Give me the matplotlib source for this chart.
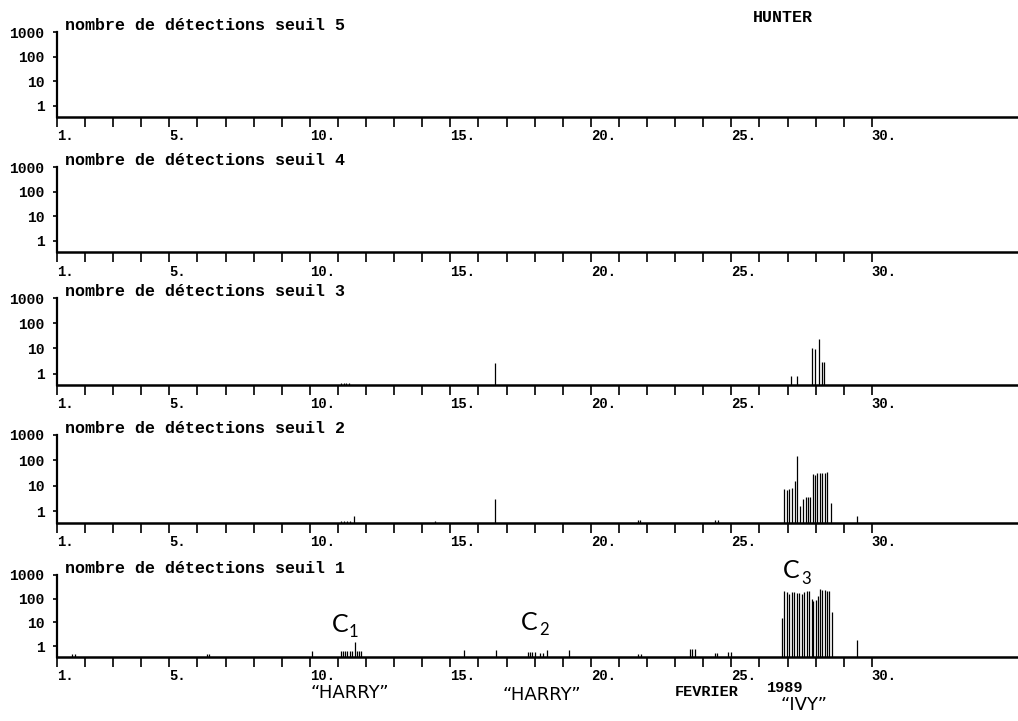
import matplotlib.pyplot as plt

W, H = 1018, 721

# jours de fevrier 1989 (tranches de 2 h) et nombre de detections par seuil
t_seuil5 = []
n_seuil5 = []

t_seuil4 = []
n_seuil4 = []

t_seuil3 = [11.10, 11.20, 11.30, 11.40, 16.59, 27.11, 27.35, 27.86, 27.98, 28.11, 28.21, 28.31]
n_seuil3 = [0.42, 0.42, 0.42, 0.42, 2.6, 0.8, 0.8, 10.3, 9.7, 22.6, 3.0, 3.0]

t_seuil2 = [11.11, 11.21, 11.32, 11.43, 11.58, 14.45, 16.59, 21.67, 21.75, 24.42, 24.52,
            26.88, 26.98, 27.06, 27.16, 27.25, 27.32, 27.44, 27.55, 27.64, 27.73, 27.80,
            27.89, 27.98, 28.06, 28.15, 28.24, 28.33, 28.42, 28.53, 29.47]
n_seuil2 = [0.42, 0.42, 0.42, 0.42, 0.67, 0.42, 3.0, 0.45, 0.45, 0.45, 0.45,
            7.4, 7.0, 7.4, 8.6, 16, 148, 1.6, 3.2, 3.6, 3.6, 3.6,
            29, 27, 31, 31, 31, 31, 36, 2.1, 0.65]

t_seuil1 = [1.53, 1.64, 6.34, 6.40, 10.06,
            11.10, 11.17, 11.25, 11.33, 11.43, 11.51, 11.60, 11.69, 11.76, 11.82,
            15.48, 16.61, 17.75, 17.83, 17.91, 18.01, 18.19, 18.28, 18.43, 19.23,
            21.68, 21.77, 23.53, 23.61, 23.70, 24.42, 24.50, 24.87, 24.97,
            26.79, 26.88, 26.97, 27.06, 27.15, 27.24, 27.32, 27.42, 27.50, 27.58, 27.68,
            27.76, 27.86, 27.91, 28.00, 28.07, 28.15, 28.24, 28.33, 28.41, 28.48, 28.57,
            29.47]
n_seuil1 = [0.45, 0.45, 0.45, 0.45, 0.65,
            0.6, 0.6, 0.6, 0.6, 0.6, 0.6, 1.5, 0.6, 0.6, 0.6,
            0.72, 0.72, 0.57, 0.57, 0.57, 0.57, 0.52, 0.52, 0.67, 0.72,
            0.49, 0.49, 0.74, 0.74, 0.74, 0.52, 0.52, 0.57, 0.57,
            15, 214, 196, 154, 196, 185, 169, 169, 154, 185, 208,
            208, 97, 78, 85, 132, 245, 230, 230, 214, 214, 28,
            1.8]

seuils = [5, 4, 3, 2, 1]
series = [(t_seuil5, n_seuil5), (t_seuil4, n_seuil4), (t_seuil3, n_seuil3),
          (t_seuil2, n_seuil2), (t_seuil1, n_seuil1)]

day_ticks = list(range(1, 31))
day_labels = [f"{d}." if d in (1, 5, 10, 15, 20, 25, 30) else "" for d in day_ticks]
y_ticks = [1, 10, 100, 1000]
y_labels = ["1", "10", "100", "1000"]

YMIN = 0.35

plt.rcParams['font.family'] = ['Liberation Mono', 'DejaVu Sans Mono']

fig = plt.figure(figsize=(W / 100, H / 100), dpi=100)

# (haut = tick 1000, bas = axe des x) en pixels pour chaque panneau
panel_px = [(32, 117), (167, 252), (298, 385), (435, 523), (575, 657)]
left = 57 / W

for seuil, (t, n), (top, bot) in zip(seuils, series, panel_px):
    ax = fig.add_axes([left, 1 - bot / H, 1 - left, (bot - top) / H])
    ax.set_yscale('log')
    ax.set_ylim(YMIN, 1000)
    ax.set_xlim(1, 35.2)
    if t:
        ax.vlines(t, YMIN, n, color='black', linewidth=0.9)

    for side in ('top', 'right'):
        ax.spines[side].set_visible(False)
    ax.spines['left'].set_linewidth(1.6)
    ax.spines['bottom'].set_linewidth(1.8)

    ax.set_xticks(day_ticks)
    ax.set_xticklabels(day_labels, ha='left', fontsize=10, fontweight='bold')
    ax.set_yticks(y_ticks)
    ax.set_yticklabels(y_labels, fontsize=10.5, fontweight='bold')
    ax.yaxis.set_minor_locator(plt.NullLocator())
    ax.tick_params(axis='x', direction='out', length=7, width=1.2, pad=2)
    ax.tick_params(axis='y', direction='out', length=3, width=1.2, pad=6)

    ax.annotate(f"nombre de détections seuil {seuil}", xy=(0, 1), xycoords='axes fraction',
                xytext=(6, 5), textcoords='offset points', ha='left', va='center',
                fontsize=12, fontweight='bold')


def ftext(x, y, s, **kw):
    fig.text(x / W, 1 - y / H, s, **kw)


ftext(753, 17, "HUNTER", fontsize=12, fontweight='bold', va='center')

sans = ['Lato', 'DejaVu Sans']
ftext(332, 624, "C", fontsize=18, family=sans, va='center')
ftext(349, 632, "1", fontsize=12, family=sans, va='center')
ftext(521, 622, "C", fontsize=18, family=sans, va='center')
ftext(539, 630, "2", fontsize=12, family=sans, va='center')
ftext(783, 571, "C", fontsize=18, family=sans, va='center')
ftext(801, 579, "3", fontsize=12, family=sans, va='center')

dv = ['DejaVu Sans']
ftext(310, 693, "“HARRY”", fontsize=13, family=dv, va='center')
ftext(503, 695, "“HARRY”", fontsize=13, family=dv, va='center')
ftext(675, 692, "FEVRIER", fontsize=11, fontweight='bold', va='center')
ftext(767, 688, "1989", fontsize=11, fontweight='bold', va='center')
ftext(781, 705, "“IVY”", fontsize=13, family=dv, va='center')

fig.savefig("out.png", dpi=100)
